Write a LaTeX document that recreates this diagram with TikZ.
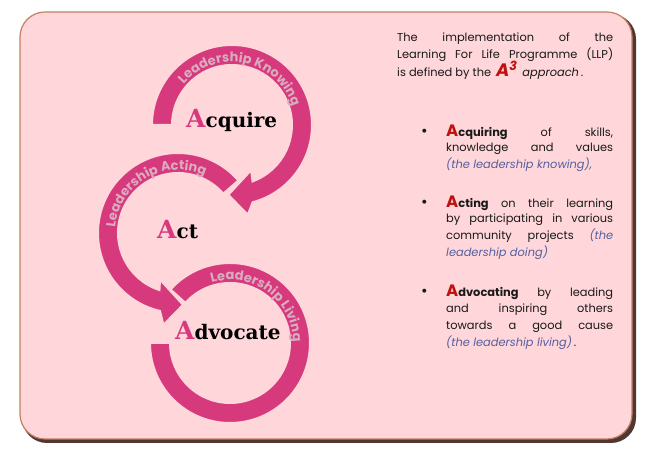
\documentclass[tikz,border=0pt]{standalone}
\usepackage{fontspec}
\newfontfamily\gothic{Poppins}
\newfontfamily\dvs{DejaVu Serif}
\usetikzlibrary{decorations.text,calc}
\definecolor{bgpink}{RGB}{255,214,217}
\definecolor{ringpink}{RGB}{214,58,125}
\definecolor{ringtext}{RGB}{218,172,192}
\definecolor{accentred}{RGB}{192,16,16}
\definecolor{noteblue}{RGB}{84,96,160}
\definecolor{edgetan}{RGB}{196,128,96}
\definecolor{edgedark}{RGB}{80,55,50}
\definecolor{bodytext}{RGB}{25,25,25}
\newcommand\ringfont{\gothic\bfseries\fontsize{13}{13}\selectfont}
\newcommand\capA[1]{{\color{accentred}\bfseries\fontsize{16.5}{16}\selectfont #1}}
\newcommand\pinkA[1]{{\color{ringpink}\fontsize{25}{25}\selectfont #1}}
\tikzset{
 ringshape/.style={fill=ringpink, draw=bgpink, line width=2pt},
 txtline/.style={anchor=base west, inner sep=0pt, font=\gothic\fontsize{11.4}{11}\selectfont, text=bodytext},
 bulletmark/.style={anchor=base west, inner sep=0pt, font=\gothic\fontsize{16}{11}\selectfont, text=bodytext},
 bigword/.style={anchor=base west, inner sep=0pt, font=\dvs\bfseries\fontsize{20}{20}\selectfont, text=black},
 arctext/.style={decorate, decoration={text along path, text align=center, text color=ringtext}}
}
\begin{document}
\begin{tikzpicture}[x=1pt,y=1pt]
\useasboundingbox (0,0) rectangle (657,454);
\fill[white] (0,0) rectangle (657,454);
% frame
\fill[edgedark, rounded corners=25pt] (22,11) rectangle (636,440);
\filldraw[fill=bgpink, draw=edgetan, line width=1.2pt, rounded corners=25pt] (20,15) rectangle (632,442);
% centres
\coordinate (c1) at (232,329);
\coordinate (c2) at (178,221);
\coordinate (c3) at (230,111);
% ring 3
\path[ringshape] ($(c3)+(138:80)$) arc[start angle=138,end angle=-180,radius=80]
  -- ($(c3)+(180:60)$) arc[start angle=-180,end angle=138,radius=60] -- cycle;
\path[arctext, decoration={text={|\ringfont|Leadership Living}}]
  ($(c3)+(124:63)$) arc[start angle=124,end angle=-16,radius=63];
% ring 2
\path[ringshape] ($(c2)+(41:80)$) arc[start angle=41,end angle=257,radius=80]
  -- ($(c2)+(261:93)$) -- ($(c2)+(274:72)$) -- ($(c2)+(249:50)$)
  -- ($(c2)+(252:60)$) arc[start angle=252,end angle=41,radius=60] -- cycle;
\path[arctext, decoration={text={|\ringfont|Leadership Acting}}]
  ($(c2)+(190:63)$) arc[start angle=190,end angle=50,radius=63];
% ring 1
\path[ringshape] ($(c1)+(180:80)$) arc[start angle=180,end angle=-75,radius=80]
  -- ($(c1)+(-80:91)$) -- ($(c1)+(-93:70)$) -- ($(c1)+(-67:49)$)
  -- ($(c1)+(-70:60)$) arc[start angle=-70,end angle=180,radius=60] -- cycle;
\path[arctext, decoration={text={|\ringfont|Leadership Knowing}}]
  ($(c1)+(148:63)$) arc[start angle=148,end angle=9,radius=63];
% big words
\node[bigword] (wacq) at (186,326) {\pinkA{A}cquire};
\node[bigword] (wact) at (157,215) {\pinkA{A}ct};
\node[bigword] (wadv) at (175,114) {\pinkA{A}dvocate};
% intro paragraph
\node[txtline] (p1a) at (397,412) {\makebox[216pt][s]{The implementation of the}};
\node[txtline] (p1b) at (397,395) {\makebox[216pt][s]{Learning For Life Programme (LLP)}};
\node[txtline] (p1c) at (397,377) {is defined by the\, {\color{accentred}\bfseries\itshape\fontsize{18}{18}\selectfont A\textsuperscript{3}}\, \textit{approach}\,.};
% item 1
\node[bulletmark] (ba) at (421,317) {\textbullet};
\node[txtline] (a1) at (446,317) {\makebox[167pt][s]{\capA{A}\textbf{cquiring} of skills,}};
\node[txtline] (a2) at (446,302) {\makebox[167pt][s]{knowledge and values}};
\node[txtline] (a3) at (446,285) {{\color{noteblue}\itshape (the leadership knowing),}};
% item 2
\node[bulletmark] (bb) at (421,246) {\textbullet};
\node[txtline] (b1) at (446,246) {\makebox[167pt][s]{\capA{A}\textbf{cting} on their learning}};
\node[txtline] (b2) at (446,231) {\makebox[167pt][s]{by participating in various}};
\node[txtline] (b3) at (446,214) {\makebox[167pt][s]{community projects {\color{noteblue}\itshape(the}}};
\node[txtline] (b4) at (446,197) {{\color{noteblue}\itshape leadership doing)}};
% item 3
\node[bulletmark] (bc) at (421,157) {\textbullet};
\node[txtline] (d1) at (446,157) {\makebox[167pt][s]{\capA{A}\textbf{dvocating} by leading}};
\node[txtline] (d2) at (446,141) {\makebox[167pt][s]{and inspiring others}};
\node[txtline] (d3) at (446,124) {\makebox[167pt][s]{towards a good cause}};
\node[txtline] (d4) at (446,107) {{\color{noteblue}\itshape(the leadership living)}\,.};
\end{tikzpicture}
\end{document}
